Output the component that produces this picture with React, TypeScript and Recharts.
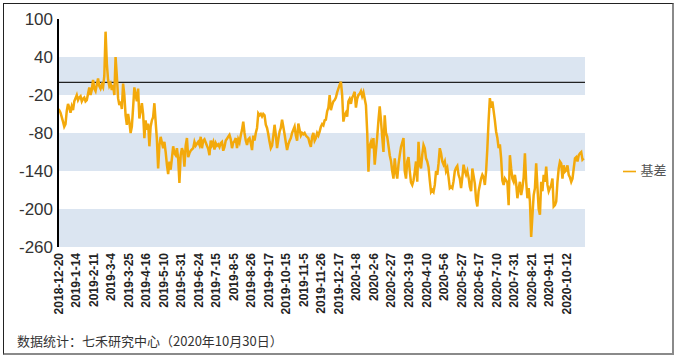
import {
    LineChart,
    Line,
    XAxis,
    YAxis,
    ReferenceArea,
    ReferenceLine,
    Legend,
} from "recharts";

// 基差 daily values, 2018-12-20 .. 2020-10-30
const basis = [
    -42, -44, -48, -55, -62, -70, -66, -45, -34, -40,
    -48, -38, -44, -30, -25, -20, -28, -24, -22, -30,
    -26, -24, -30, -28, -18, -8, -20, -12, 4, -10,
    -14, -4, 6, -6, -10, -4, -8, 10, 80, 30,
    4, -6, -2, -12, -4, -20, 40, 10, -25, -36,
    -30, -42, -2, -20, -52, -67, -50, -62, -80, -70,
    -40, -8, -20, -30, -10, -57, -45, -33, -50, -88,
    -60, -75, -65, -101, -70, -60, -55, -33, -62, -90,
    -136, -100, -86, -95, -104, -94, -110, -130, -145, -125,
    -138, -120, -101, -112, -115, -104, -120, -159, -115, -104,
    -110, -133, -100, -88, -118, -112, -108, -106, -104, -94,
    -100, -97, -94, -99, -86, -104, -92, -90, -95, -100,
    -105, -115, -92, -99, -94, -106, -96, -100, -98, -102,
    -96, -94, -108, -102, -92, -89, -86, -83, -90, -104,
    -95, -93, -88, -104, -90, -95, -84, -75, -62, -80,
    -92, -99, -90, -88, -96, -107, -84, -92, -80, -72,
    -49, -52, -50, -54, -50, -52, -67, -72, -82, -94,
    -104, -100, -85, -67, -83, -104, -90, -78, -72, -59,
    -70, -82, -95, -107, -98, -92, -88, -80, -75, -70,
    -84, -92, -65, -75, -84, -80, -82, -80, -84, -86,
    -88, -96, -102, -86, -80, -92, -88, -80, -84, -78,
    -70, -66, -68, -60, -59, -46, -40, -20, -44, -36,
    -30, -28, -24, -16, -10, -4, 1, -20, -62, -52,
    -48, -54, -30, -26, -34, -24, -20, -15, -40, -26,
    -20, -18, -14, -22, -16, -26, -36, -78, -141, -100,
    -94, -104, -88, -130, -108, -86, -60, -38, -60, -86,
    -110, -52, -80, -86, -100, -115, -124, -140, -152, -120,
    -141, -152, -130, -115, -102, -95, -88, -140, -152, -125,
    -118, -140, -158, -162, -155, -141, -125, -157, -94, -130,
    -136, -114, -99, -104, -120, -125, -134, -155, -173, -170,
    -173, -162, -140, -146, -128, -104, -112, -125, -130, -125,
    -140, -135, -150, -167, -165, -167, -156, -140, -135, -132,
    -146, -152, -167, -150, -130, -140, -146, -140, -150, -165,
    -172, -136, -148, -160, -185, -196, -172, -162, -152, -146,
    -150, -162, -140, -104, -60, -25, -40, -30, -45, -60,
    -78, -88, -104, -98, -120, -155, -162, -152, -155, -158,
    -194, -115, -136, -152, -157, -146, -160, -183, -168, -157,
    -178, -167, -150, -112, -157, -183, -167, -188, -244, -210,
    -178, -167, -128, -165, -200, -209, -157, -172, -146, -157,
    -133, -162, -172, -167, -162, -152, -196, -194, -188, -157,
    -136, -125, -128, -152, -131, -141, -139, -131, -146, -150,
    -157, -152, -136, -120, -118, -125, -115, -112, -110, -122, -120,
];

// date labels shown every 14 trading days
const tickLabels = [
    "2018-12-20", "2019-1-14", "2019-2-11", "2019-3-4", "2019-3-25",
    "2019-4-16", "2019-5-10", "2019-5-31", "2019-6-24", "2019-7-15",
    "2019-8-5", "2019-8-26", "2019-9-17", "2019-10-15", "2019-11-5",
    "2019-11-26", "2019-12-17", "2020-1-8", "2020-2-6", "2020-2-27",
    "2020-3-19", "2020-4-10", "2020-5-6", "2020-5-27", "2020-6-17",
    "2020-7-10", "2020-7-31", "2020-8-21", "2020-9-11", "2020-10-12",
];
const TICK_STEP = 14;

const yTicks = [100, 40, -20, -80, -140, -200, -260];
const bands: [number, number][] = [
    [40, -20],
    [-80, -140],
    [-200, -260],
];

const LINE_COLOR = "#f3a90b";
const BAND_COLOR = "#dbe5f1";
const FONT = "'Liberation Sans', Arial, sans-serif";
const CJK = "'Noto Sans CJK SC', sans-serif";

const data = basis.map((v, i) => ({ idx: i, 基差: v }));
const xTicks = tickLabels.map((_, i) => i * TICK_STEP);

const DateTick = ({ x, y, payload }: any) => (
    <g transform={`translate(${x},${y})`}>
        <text
            transform="rotate(-90)"
            x={0}
            y={0}
            dy={4.5}
            textAnchor="end"
            fontSize={12}
            fontWeight="bold"
            fontFamily={FONT}
            fill="#222"
        >
            {tickLabels[Math.round(payload.value / TICK_STEP)]}
        </text>
    </g>
);

const App = () => {
    return (
        <div
            style={{
                position: "absolute",
                left: 0,
                top: 0,
                width: 677,
                height: 359,
                background: "#fff",
            }}
        >
            <div
                style={{
                    position: "absolute",
                    left: 3,
                    top: 3,
                    width: 668,
                    height: 349,
                    borderTop: "1px solid #222",
                    borderLeft: "1px solid #222",
                    borderRight: "2px solid #8a8a8a",
                    borderBottom: "2px solid #8a8a8a",
                }}
            />
            <div style={{ position: "absolute", left: 0, top: 0 }}>
                <LineChart
                    width={677}
                    height={359}
                    data={data}
                    margin={{ top: 19, right: 92, bottom: 0, left: 8 }}
                >
                    {bands.map(([a, b], i) => (
                        <ReferenceArea
                            key={`band-${i}`}
                            y1={a}
                            y2={b}
                            fill={BAND_COLOR}
                            fillOpacity={1}
                            stroke="none"
                        />
                    ))}
                    <ReferenceLine y={0} stroke="#222" strokeWidth={1.3} />
                    <XAxis
                        dataKey="idx"
                        type="number"
                        domain={[0, 421]}
                        ticks={xTicks}
                        interval={0}
                        axisLine={false}
                        tickLine={false}
                        tickSize={4}
                        tickMargin={2}
                        height={112}
                        tick={<DateTick />}
                    />
                    <YAxis
                        domain={[-260, 100]}
                        ticks={yTicks}
                        interval={0}
                        width={50}
                        axisLine={{ stroke: "#000", strokeWidth: 2 }}
                        tickLine={false}
                        tickSize={3}
                        tickMargin={2}
                        tick={{ fontSize: 17, fill: "#333", fontFamily: FONT }}
                    />
                    <Legend
                        layout="horizontal"
                        verticalAlign="middle"
                        align="center"
                        iconType="plainline"
                        iconSize={13}
                        wrapperStyle={{
                            left: 615,
                            top: 160,
                            width: 70,
                            textAlign: "left",
                        }}
                        formatter={(value: string) => (
                            <span style={{ color: "#555", fontSize: 13, fontFamily: CJK }}>
                                {value}
                            </span>
                        )}
                    />
                    <Line
                        type="linear"
                        dataKey="基差"
                        stroke={LINE_COLOR}
                        strokeWidth={2.5}
                        dot={false}
                        isAnimationActive={false}
                    />
                </LineChart>
            </div>
            <div
                style={{
                    position: "absolute",
                    left: 17,
                    top: 331,
                    fontSize: 13,
                    fontFamily: CJK,
                    color: "#333",
                    whiteSpace: "nowrap",
                }}
            >
                数据统计：七禾研究中心（2020年10月30日）
            </div>
        </div>
    );
};

export default App;
